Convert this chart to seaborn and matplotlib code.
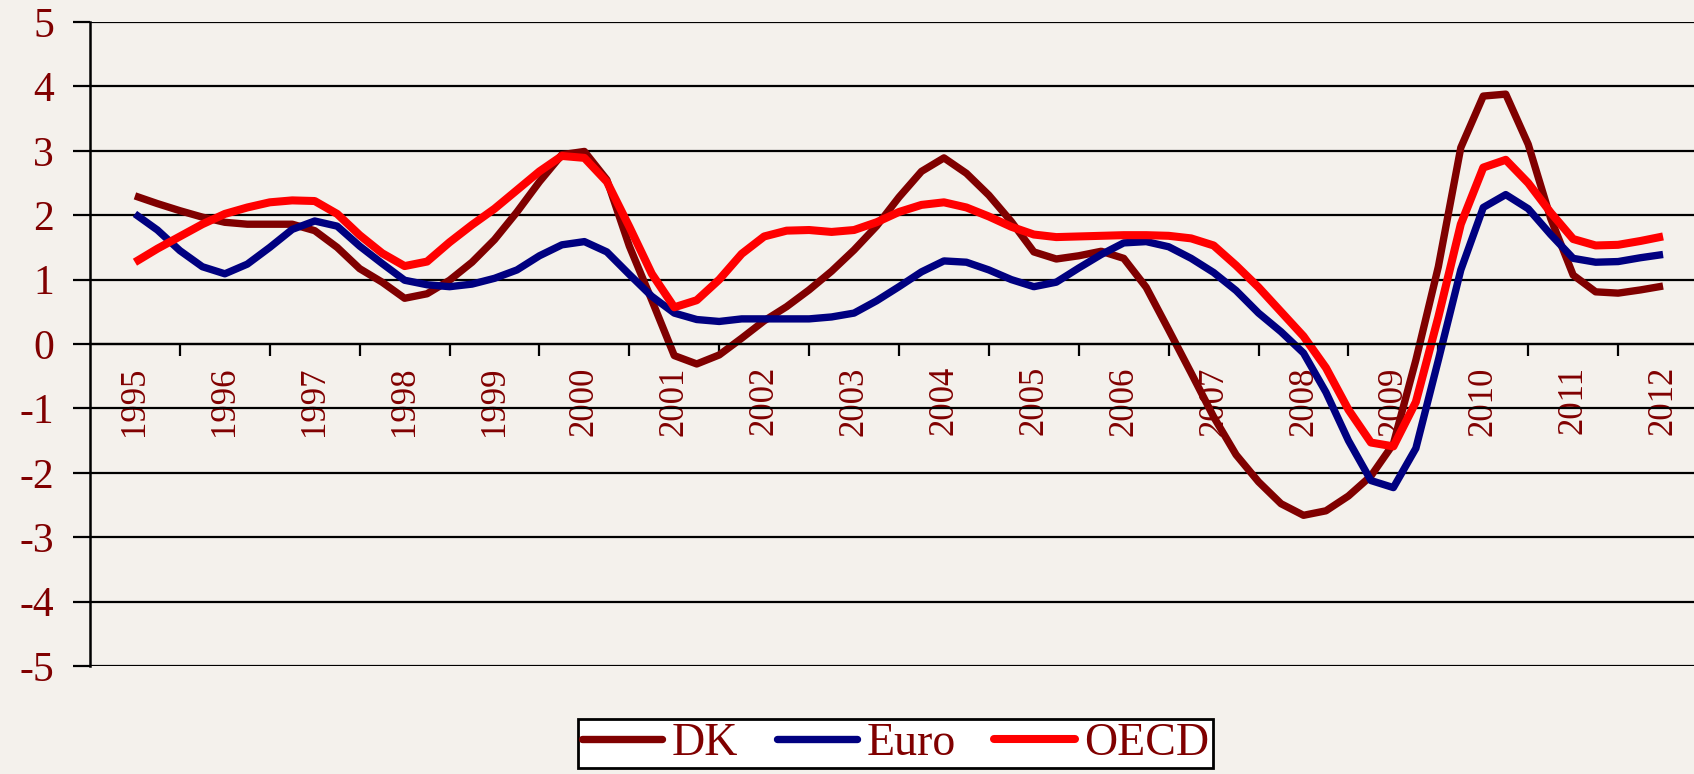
import numpy as np
import pandas as pd
import matplotlib
matplotlib.use("Agg")
import matplotlib.pyplot as plt
import seaborn as sns
from matplotlib.lines import Line2D

# -------------------------------
# Data (quarterly)
# -------------------------------
quarters = np.arange(1995, 2012.01, 0.25)
years = list(range(1995, 2013))

dk = [2.30, 2.18, 2.07, 1.97, 1.89, 1.86, 1.86, 1.86,
      1.76, 1.50, 1.17, 0.96, 0.71, 0.78, 0.99, 1.27,
      1.62, 2.05, 2.52, 2.94, 2.99, 2.55, 1.52, 0.68,
      -0.18, -0.31, -0.17, 0.09, 0.36, 0.58, 0.84, 1.13,
      1.46, 1.83, 2.28, 2.68, 2.89, 2.65, 2.31, 1.90,
      1.43, 1.32, 1.37, 1.44, 1.33, 0.88, 0.22, -0.45,
      -1.13, -1.72, -2.14, -2.48, -2.66, -2.59, -2.36, -2.05,
      -1.55, -0.25, 1.20, 3.05, 3.85, 3.88, 3.10, 1.95,
      1.07, 0.81, 0.79, 0.84, 0.90]

euro = [2.02, 1.77, 1.45, 1.20, 1.09, 1.24, 1.50, 1.78,
        1.91, 1.83, 1.52, 1.25, 0.99, 0.92, 0.89, 0.93,
        1.02, 1.15, 1.37, 1.54, 1.59, 1.43, 1.08, 0.74,
        0.48, 0.38, 0.35, 0.39, 0.39, 0.39, 0.39, 0.42,
        0.48, 0.67, 0.89, 1.12, 1.29, 1.27, 1.15, 1.00,
        0.89, 0.96, 1.18, 1.39, 1.57, 1.59, 1.51, 1.33,
        1.11, 0.83, 0.48, 0.19, -0.14, -0.75, -1.50, -2.12,
        -2.23, -1.62, -0.25, 1.15, 2.12, 2.32, 2.10, 1.70,
        1.33, 1.27, 1.28, 1.34, 1.39]

oecd = [1.27, 1.48, 1.67, 1.86, 2.02, 2.12, 2.20, 2.23,
        2.22, 2.02, 1.69, 1.41, 1.21, 1.28, 1.58, 1.85,
        2.10, 2.39, 2.68, 2.92, 2.89, 2.52, 1.82, 1.09,
        0.57, 0.68, 1.00, 1.40, 1.67, 1.76, 1.77, 1.74,
        1.77, 1.89, 2.05, 2.16, 2.20, 2.12, 1.98, 1.82,
        1.70, 1.66, 1.67, 1.68, 1.69, 1.69, 1.68, 1.64,
        1.53, 1.22, 0.88, 0.50, 0.12, -0.37, -1.02, -1.53,
        -1.59, -0.90, 0.42, 1.86, 2.74, 2.86, 2.50, 2.04,
        1.63, 1.53, 1.54, 1.60, 1.67]

series_names = ["DK", "Euro", "OECD"]
colors = {"DK": "#800000", "Euro": "#000080", "OECD": "#FF0000"}
widths = {"DK": 5.3, "Euro": 5.3, "OECD": 5.8}

df = pd.DataFrame({"t": quarters, "DK": dk, "Euro": euro, "OECD": oecd})
long_df = df.melt(id_vars="t", var_name="series", value_name="value")

# -------------------------------
# Style
# -------------------------------
bg = "#F4F1EC"
txt = "#800000"
sns.set_theme(style="ticks")
plt.rcParams["font.family"] = ["Liberation Serif", "DejaVu Serif"]
plt.rcParams["axes.unicode_minus"] = False

fig = plt.figure(figsize=(16.94, 7.74), dpi=100, facecolor=bg)
ax = fig.add_axes([90 / 1694, 1 - 666 / 774, (1708 - 90) / 1694, (666 - 22) / 774])
ax.set_facecolor(bg)

sns.lineplot(data=long_df, x="t", y="value", hue="series", hue_order=series_names,
             palette=colors, ax=ax, legend=False, estimator=None, sort=False)
for line, name in zip(ax.lines, series_names):
    line.set_linewidth(widths[name])
    line.set_solid_joinstyle("round")
    line.set_solid_capstyle("butt")

ax.set_xlim(1994.5, 2012.5)
ax.set_ylim(-5, 5)
ax.set_xlabel("")
ax.set_ylabel("")

# horizontal gridlines
ax.set_yticks(range(-5, 6))
ax.yaxis.grid(True, color="black", linewidth=1.6)
ax.xaxis.grid(False)
ax.set_axisbelow(True)

for s in ["top", "right"]:
    ax.spines[s].set_visible(False)
ax.spines["bottom"].set_position(("data", 0))
ax.spines["bottom"].set_color("black")
ax.spines["bottom"].set_linewidth(1.6)
ax.spines["left"].set_color("black")
ax.spines["left"].set_linewidth(1.8)

# x ticks between years, labels centred on years
ax.set_xticks(np.arange(1995.5, 2012, 1))
ax.set_xticklabels([])
ax.set_xticks(years, minor=True)
ax.set_xticklabels([str(y) for y in years], minor=True, rotation=90,
                   color=txt, fontsize=25)
ax.tick_params(axis="x", which="major", length=8.6, width=1.6, color="black", direction="out")
ax.tick_params(axis="x", which="minor", length=0, pad=16)
ax.tick_params(axis="y", length=12, width=1.6, color="black", pad=14,
               labelsize=30, labelcolor=txt)

# legend box at the bottom
handles = [Line2D([], [], color=colors[n], linewidth=widths[n]) for n in series_names]
leg = fig.legend(handles, series_names, loc="center", bbox_to_anchor=(0.5286, 0.0395),
                 ncol=3, fontsize=33, handlelength=1.75, handletextpad=0.2,
                 columnspacing=0.85, borderpad=0.08, fancybox=False, frameon=True,
                 edgecolor="black", facecolor="white", framealpha=1, labelcolor=txt)
leg.get_frame().set_linewidth(2)

fig.savefig("out.png", dpi=100, facecolor=bg)
